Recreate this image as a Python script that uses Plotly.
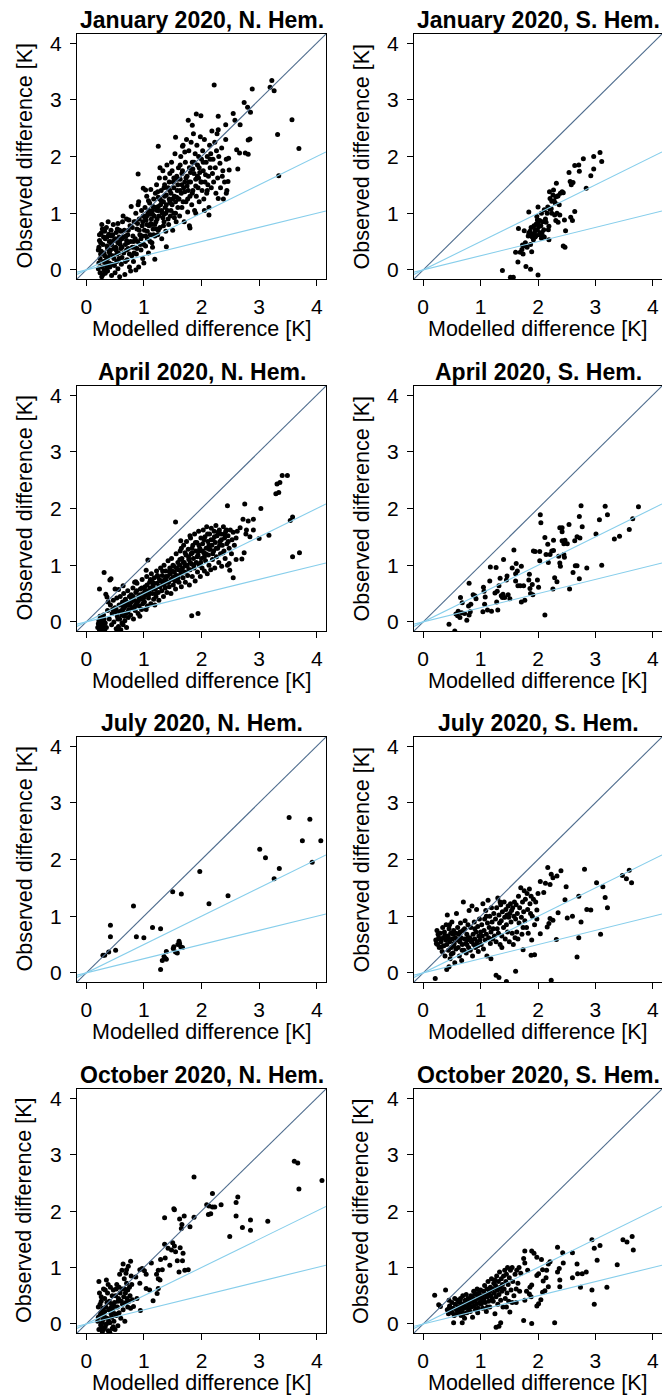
import plotly.graph_objects as go

# ---------------- data (modelled, observed) ----------------
jan_n = [
    (2.22, 3.26), (3.22, 3.34), (3.19, 3.22), (3.26, 3.16), (2.88, 3.19), (2.74, 2.95), (2.80, 2.87),
    (2.85, 2.78), (3.57, 2.65), (3.32, 2.39), (3.69, 2.14), (3.34, 1.66), (2.55, 2.76), (2.58, 2.64),
    (2.67, 2.56), (2.42, 2.56), (2.29, 2.47), (2.29, 2.71), (1.91, 2.75), (1.99, 2.72), (1.77, 2.64),
    (1.84, 2.55), (1.55, 2.34), (1.67, 2.18), (1.25, 2.18), (0.90, 1.69), (2.81, 2.29), (2.84, 2.31),
    (2.61, 2.12), (2.76, 2.06), (2.81, 2.04), (2.66, 2.06), (2.47, 1.97), (2.63, 1.78), (2.48, 1.76),
    (2.46, 1.56), (2.43, 1.35), (2.29, 1.26), (2.13, 0.97), (1.80, 0.74), (1.39, 0.41), (1.19, 0.19),
    (1.00, 0.12), (0.99, 1.44), (1.03, 1.41),
    (0.21, 0.35), (0.22, 0.12), (0.23, 0.52), (0.24, -0.05), (0.25, 0.28), (0.26, 0.65), (0.27, 0.80),
    (0.28, 0.05), (0.22, 0.40), (0.29, 0.45), (0.24, 0.20), (0.27, -0.12), (0.30, 0.58), (0.26, 0.33),
    (0.28, 0.72), (0.21, 0.02), (0.30, 0.15), (0.25, 0.48), (0.23, 0.62), (0.29, -0.08),
    (0.31, 0.30), (0.33, 0.55), (0.34, 0.10), (0.35, 0.75), (0.36, 0.42), (0.37, -0.02), (0.38, 0.22),
    (0.39, 0.63), (0.40, 0.50), (0.41, 0.05), (0.42, 0.35), (0.43, 0.70), (0.44, -0.10), (0.32, 0.68),
    (0.35, 0.18), (0.38, 0.85), (0.41, 0.28), (0.44, 0.45), (0.33, -0.06), (0.36, 0.58), (0.40, 0.12),
    (0.43, 0.60), (0.37, 0.38), (0.31, 0.00),
    (0.46, 0.25), (0.47, 0.80), (0.48, 0.52), (0.50, -0.05), (0.51, 0.40), (0.52, 0.66), (0.53, 0.15),
    (0.55, 0.82), (0.56, 0.30), (0.57, 0.58), (0.58, -0.12), (0.59, 0.45), (0.46, 0.62), (0.49, 0.08),
    (0.52, 0.35), (0.54, 0.72), (0.57, 0.20), (0.60, 0.68), (0.48, 0.38), (0.55, 0.02), (0.58, 0.50),
    (0.61, 0.10), (0.62, 0.55), (0.63, 0.85), (0.65, 0.30), (0.66, 0.70), (0.67, -0.08), (0.68, 0.45),
    (0.70, 0.90), (0.71, 0.18), (0.72, 0.62), (0.73, 0.38), (0.75, 0.05), (0.76, 0.78), (0.77, 0.50),
    (0.78, 1.12), (0.79, 0.25), (0.64, 0.95), (0.69, 0.60), (0.74, 0.88), (0.80, 0.40), (0.62, 0.22),
    (0.77, -0.02), (0.70, 0.35), (0.73, 0.70),
    (0.81, 0.60), (0.82, 0.15), (0.83, 0.85), (0.84, 0.40), (0.86, 1.00), (0.87, 0.28), (0.88, 0.72),
    (0.89, 0.50), (0.90, 1.15), (0.91, 0.05), (0.92, 0.90), (0.93, 0.62), (0.95, 0.35), (0.96, 1.05),
    (0.97, 0.78), (0.98, 0.20), (0.99, 0.95), (0.85, 0.55), (0.89, 0.82), (0.94, 0.45), (0.83, 0.30),
    (0.97, 0.60), (0.91, 1.20), (0.86, 0.00),
    (1.01, 0.70), (1.02, 1.10), (1.03, 0.42), (1.04, 0.88), (1.05, 1.30), (1.06, 0.55), (1.07, 1.00),
    (1.08, 0.30), (1.09, 0.78), (1.10, 1.18), (1.11, 0.62), (1.12, 1.42), (1.13, 0.90), (1.14, 0.48),
    (1.15, 1.05), (1.16, 0.72), (1.17, 1.25), (1.18, 0.95), (1.19, 0.60), (1.20, 1.35), (1.05, 0.95),
    (1.12, 0.82), (1.08, 1.22), (1.16, 1.12), (1.03, 0.60), (1.19, 0.80), (1.15, 0.40), (1.10, 0.98),
    (1.21, 0.85), (1.22, 1.50), (1.23, 1.05), (1.24, 0.62), (1.25, 1.28), (1.26, 0.95), (1.27, 1.62),
    (1.28, 0.75), (1.29, 1.15), (1.30, 1.40), (1.31, 0.55), (1.32, 1.00), (1.33, 1.75), (1.34, 1.20),
    (1.35, 0.85), (1.36, 1.50), (1.37, 1.10), (1.38, 0.68), (1.39, 1.32), (1.40, 1.85), (1.24, 1.38),
    (1.28, 1.80), (1.33, 0.92), (1.37, 1.62), (1.22, 0.72), (1.30, 1.22), (1.26, 1.05), (1.38, 1.00),
    (1.35, 1.45),
    (1.41, 1.05), (1.42, 1.45), (1.43, 0.80), (1.44, 1.25), (1.45, 1.70), (1.46, 0.95), (1.47, 1.35),
    (1.48, 1.90), (1.49, 1.15), (1.50, 0.70), (1.51, 1.55), (1.52, 1.00), (1.53, 1.30), (1.54, 2.05),
    (1.55, 1.20), (1.56, 0.85), (1.57, 1.65), (1.58, 1.40), (1.59, 1.10), (1.60, 1.80), (1.44, 1.55),
    (1.49, 1.75), (1.53, 0.92), (1.57, 1.28), (1.46, 1.18), (1.52, 1.62), (1.59, 1.50),
    (1.61, 1.25), (1.62, 0.95), (1.63, 1.60), (1.64, 2.00), (1.65, 1.35), (1.66, 1.10), (1.67, 1.75),
    (1.68, 2.20), (1.69, 1.45), (1.70, 0.85), (1.71, 1.55), (1.72, 1.90), (1.73, 1.20), (1.74, 2.30),
    (1.75, 1.65), (1.76, 1.02), (1.77, 1.40), (1.78, 2.10), (1.79, 1.80), (1.80, 1.30), (1.66, 1.50),
    (1.71, 2.08), (1.75, 1.48), (1.79, 0.78), (1.63, 1.85),
    (1.81, 1.55), (1.82, 2.25), (1.83, 1.15), (1.84, 1.90), (1.85, 1.40), (1.86, 2.40), (1.87, 1.70),
    (1.88, 1.05), (1.89, 2.05), (1.90, 1.60), (1.91, 1.30), (1.92, 2.20), (1.93, 1.85), (1.94, 1.45),
    (1.95, 2.00), (1.96, 1.20), (1.97, 1.72), (1.98, 2.35), (1.99, 1.55), (2.00, 1.95), (1.85, 1.78),
    (1.90, 1.00), (1.95, 1.62),
    (2.01, 1.40), (2.02, 2.10), (2.03, 1.75), (2.04, 1.25), (2.05, 2.30), (2.06, 1.55), (2.08, 1.90),
    (2.09, 1.35), (2.10, 2.00), (2.12, 1.65), (2.13, 1.10), (2.14, 2.20), (2.15, 1.80), (2.17, 1.45),
    (2.18, 2.45), (2.19, 1.70), (2.20, 1.95), (2.05, 1.05), (2.11, 1.50), (2.16, 2.05),
    (2.21, 1.55), (2.23, 2.25), (2.24, 1.80), (2.25, 1.35), (2.27, 2.40), (2.28, 1.62), (2.30, 2.00),
    (2.32, 1.88), (2.33, 1.45), (2.35, 2.15), (2.37, 1.75), (2.38, 1.25), (2.40, 1.55), (2.42, 2.30),
    (2.43, 1.95), (2.44, 1.40), (2.26, 2.10), (2.36, 1.65),
    (0.32, 0.25), (0.36, 0.05), (0.40, 0.32), (0.45, 0.10), (0.50, 0.55), (0.53, 0.28), (0.58, 0.70),
    (0.60, 0.38), (0.65, 0.58), (0.68, 0.15), (0.72, 0.48), (0.75, 0.28), (0.80, 0.75), (0.82, 0.50),
    (0.85, 0.85), (0.88, 0.38), (0.92, 0.70), (0.95, 0.55), (0.98, 0.85), (1.00, 0.45), (1.02, 0.92),
    (1.06, 0.68), (1.09, 1.05), (1.11, 0.50), (1.14, 0.80), (1.17, 0.62), (1.20, 1.10), (1.23, 0.90),
    (1.25, 0.70), (1.28, 1.25), (1.31, 1.05), (1.34, 0.78), (1.36, 1.30), (1.39, 1.15), (1.42, 0.90),
    (1.45, 1.40), (1.47, 1.05), (1.50, 1.25), (1.52, 1.45), (1.55, 1.00), (1.58, 1.60), (1.60, 1.25),
    (1.63, 1.40), (1.66, 1.70), (1.68, 1.20), (1.71, 1.38), (1.73, 1.62), (1.76, 1.25), (1.78, 1.55),
    (1.81, 1.72), (1.84, 1.35), (1.87, 1.90), (1.90, 1.48), (1.93, 1.65), (1.96, 1.80), (2.00, 1.55),
    (2.03, 1.90), (2.07, 1.68), (2.10, 1.40), (2.15, 1.95), (1.05, 0.80), (1.15, 0.98), (1.25, 1.12),
    (1.35, 0.98), (1.45, 1.20), (0.70, 0.52), (0.62, 0.40), (0.55, 0.48), (0.48, 0.20), (0.42, 0.50),
]

jan_s = [
    (1.38, -0.01), (1.52, -0.13), (1.57, -0.13), (1.55, -0.16), (2.00, -0.09), (1.79, 0.06), (1.87, 0.01),
    (1.65, 0.14), (1.61, 0.31), (1.69, 0.31), (1.74, 0.28), (1.66, 0.73), (1.73, 0.44), (1.75, 0.42),
    (1.81, 0.40), (1.87, 0.45), (1.89, 0.32), (1.84, 1.02), (1.76, 0.69), (1.84, 0.65), (1.87, 0.62),
    (1.90, 0.58), (1.92, 0.53), (1.95, 0.71), (1.97, 0.81), (2.01, 0.76), (2.03, 0.87), (1.98, 0.94),
    (2.00, 1.11), (2.06, 1.00), (2.08, 0.85), (2.10, 0.71), (2.09, 0.59), (2.14, 0.84), (2.18, 0.71),
    (2.19, 0.53), (2.06, 0.56), (2.04, 0.65), (1.94, 0.65), (1.95, 0.58), (2.11, 1.06), (2.17, 1.11),
    (2.21, 1.07), (2.20, 1.38), (2.27, 1.41), (2.21, 1.26), (2.24, 1.21), (2.28, 1.22), (2.31, 1.29),
    (2.32, 1.53), (2.35, 1.31), (2.39, 1.35), (2.42, 1.38), (2.29, 0.97), (2.33, 1.00), (2.38, 0.97),
    (2.31, 0.87), (2.35, 0.84), (2.44, 0.42), (2.47, 0.40), (2.48, 0.69), (2.46, 0.88), (2.57, 0.93),
    (2.60, 0.87), (2.64, 1.03), (2.54, 1.72), (2.56, 1.56), (2.61, 1.54), (2.58, 1.50), (2.64, 1.84),
    (2.71, 1.85), (2.72, 1.74), (2.79, 1.96), (2.84, 1.44), (2.92, 1.66), (2.97, 2.00), (2.97, 1.78),
    (3.08, 2.07), (3.11, 1.91),
    (1.86, 0.68), (1.88, 0.75), (1.91, 0.63), (1.93, 0.78), (1.96, 0.60), (1.99, 0.70), (2.02, 0.62),
    (2.05, 0.78), (2.07, 0.66), (2.11, 0.58), (2.13, 0.90), (2.00, 0.82), (1.83, 0.60), (2.16, 1.00),
    (2.23, 1.08), (2.26, 1.32), (2.30, 1.18), (2.34, 1.30), (2.37, 1.15), (2.44, 1.36), (1.72, 0.36),
    (1.78, 0.48), (1.99, 0.88), (2.24, 1.00), (2.19, 0.77),
]

apr_n = [
    (0.23, 0.58), (0.31, 0.87), (0.34, 0.49), (0.36, 0.44), (0.41, 0.74), (0.43, 0.76), (0.50, 0.58),
    (0.56, 0.57), (0.64, 0.64), (0.86, 0.71), (1.04, 0.91), (1.07, 1.09), (1.55, 1.76), (1.64, 1.43),
    (1.80, 1.52), (1.83, 0.11), (1.94, 0.15), (2.45, 2.05), (2.75, 2.08), (3.03, 2.00), (2.72, 1.81),
    (2.81, 1.78), (2.90, 1.81), (2.84, 1.50), (3.17, 1.53), (3.00, 1.47), (3.31, 2.43), (3.36, 2.46),
    (3.40, 2.58), (3.49, 2.58), (3.29, 2.26), (3.34, 2.28), (3.54, 1.79), (3.58, 1.85), (3.58, 1.15),
    (3.70, 1.22), (2.49, 0.91), (2.55, 0.78), (2.48, 1.03), (2.60, 1.10), (2.70, 1.11), (2.74, 1.22),
    (2.77, 1.55), (2.67, 1.66), (2.78, 1.62), (2.90, 1.62),
    (0.20, -0.10), (0.22, 0.02), (0.23, -0.14), (0.25, 0.08), (0.26, -0.05), (0.27, -0.12), (0.28, 0.00),
    (0.30, -0.08), (0.31, 0.05), (0.32, -0.15), (0.21, -0.03), (0.24, 0.10), (0.29, -0.13), (0.33, -0.02),
    (0.26, 0.04), (0.35, -0.10), (0.22, -0.08), (0.30, 0.12),
    (0.37, 0.20), (0.40, 0.05), (0.42, 0.30), (0.44, -0.05), (0.45, 0.15), (0.47, 0.38), (0.48, 0.00),
    (0.50, 0.25), (0.52, -0.12), (0.53, 0.42), (0.54, 0.10), (0.38, 0.35), (0.46, 0.22), (0.51, 0.18),
    (0.56, -0.08), (0.57, 0.30), (0.58, 0.05), (0.59, 0.45), (0.60, -0.14), (0.61, 0.20), (0.62, 0.12),
    (0.63, 0.35), (0.64, -0.05), (0.65, 0.50), (0.66, 0.25), (0.67, 0.02), (0.68, 0.40), (0.69, 0.15),
    (0.70, -0.10), (0.71, 0.30), (0.72, 0.55), (0.73, 0.08), (0.74, 0.22), (0.75, 0.45), (0.58, 0.18),
    (0.62, -0.02), (0.66, 0.10), (0.70, 0.35), (0.57, -0.15), (0.64, 0.28),
    (0.76, 0.30), (0.77, 0.12), (0.78, 0.48), (0.80, 0.25), (0.81, 0.60), (0.82, 0.05), (0.83, 0.38),
    (0.85, 0.20), (0.86, 0.52), (0.87, 0.32), (0.88, 0.68), (0.90, 0.15), (0.91, 0.45), (0.92, 0.28),
    (0.94, 0.58), (0.95, 0.40), (0.96, 0.22), (0.97, 0.75), (0.99, 0.50), (0.79, 0.40), (0.84, 0.70),
    (0.89, 0.35), (0.93, 0.10), (0.98, 0.32),
    (1.01, 0.35), (1.02, 0.62), (1.03, 0.48), (1.05, 0.80), (1.06, 0.28), (1.07, 0.55), (1.08, 0.42),
    (1.10, 0.70), (1.11, 0.60), (1.12, 0.32), (1.13, 0.85), (1.15, 0.50), (1.16, 0.65), (1.17, 0.40),
    (1.18, 0.78), (1.20, 0.58), (1.21, 0.45), (1.22, 0.90), (1.23, 0.68), (1.25, 0.52), (1.26, 0.38),
    (1.27, 0.75), (1.28, 0.62), (1.29, 0.95), (1.04, 0.22), (1.14, 0.72), (1.19, 0.30), (1.24, 0.80),
    (1.09, 0.52),
    (1.31, 0.55), (1.32, 0.82), (1.33, 0.68), (1.34, 0.45), (1.35, 1.00), (1.36, 0.75), (1.37, 0.60),
    (1.38, 0.90), (1.40, 0.52), (1.41, 0.80), (1.42, 1.08), (1.43, 0.70), (1.44, 0.62), (1.45, 0.95),
    (1.46, 0.85), (1.47, 0.50), (1.48, 1.12), (1.50, 0.78), (1.51, 0.65), (1.52, 0.98), (1.53, 0.88),
    (1.55, 0.58), (1.56, 1.20), (1.57, 0.82), (1.58, 0.72), (1.59, 1.05), (1.60, 0.92), (1.39, 0.72),
    (1.49, 0.90), (1.54, 0.72),
    (1.61, 0.70), (1.62, 1.00), (1.63, 1.25), (1.64, 0.85), (1.65, 0.62), (1.66, 1.12), (1.67, 0.95),
    (1.68, 0.78), (1.69, 1.35), (1.70, 1.05), (1.71, 0.88), (1.72, 0.70), (1.73, 1.18), (1.74, 1.42),
    (1.75, 0.98), (1.76, 0.82), (1.77, 1.28), (1.78, 1.10), (1.79, 0.65), (1.80, 0.92), (1.81, 1.48),
    (1.82, 1.20), (1.83, 1.02), (1.84, 0.80), (1.85, 1.35), (1.86, 1.12), (1.87, 0.95), (1.88, 1.55),
    (1.89, 0.72), (1.90, 1.25), (1.65, 1.30), (1.72, 1.00), (1.78, 0.92), (1.84, 1.22),
    (1.91, 1.05), (1.92, 1.40), (1.93, 0.88), (1.94, 1.18), (1.95, 1.60), (1.96, 1.00), (1.97, 1.30),
    (1.98, 0.80), (1.99, 1.48), (2.00, 1.12), (2.01, 0.95), (2.02, 1.38), (2.03, 1.62), (2.04, 1.22),
    (2.05, 0.90), (2.06, 1.50), (2.07, 1.08), (2.08, 1.30), (2.09, 1.68), (2.10, 0.85), (2.11, 1.42),
    (2.12, 1.18), (2.13, 1.00), (2.14, 1.55), (2.15, 1.28), (2.16, 0.92), (2.17, 1.65), (2.18, 1.35),
    (2.19, 1.10), (2.20, 1.45), (1.96, 1.25), (2.05, 1.15), (2.13, 1.35),
    (2.21, 1.25), (2.22, 1.60), (2.23, 0.95), (2.24, 1.40), (2.25, 1.70), (2.26, 1.15), (2.27, 1.52),
    (2.28, 1.30), (2.30, 1.05), (2.31, 1.62), (2.32, 1.42), (2.33, 1.20), (2.34, 1.55), (2.35, 0.98),
    (2.36, 1.35), (2.38, 1.68), (2.39, 1.25), (2.40, 1.48), (2.41, 1.12), (2.42, 1.60), (2.44, 1.38),
    (2.45, 1.00), (2.46, 1.52), (2.48, 1.30), (2.50, 1.62), (2.52, 1.20), (2.53, 1.45), (2.55, 1.58),
    (2.57, 1.35), (2.60, 1.48), (2.62, 1.60),
    (0.785, 0.35), (0.815, 0.45), (0.845, 0.28), (0.875, 0.55), (0.905, 0.38), (0.935, 0.48), (0.965, 0.60),
    (0.995, 0.42), (1.025, 0.55), (1.055, 0.65), (1.085, 0.48), (1.115, 0.75), (1.145, 0.58), (1.175, 0.68),
    (1.205, 0.50), (1.235, 0.82), (1.265, 0.62), (1.295, 0.72), (1.325, 0.90), (1.355, 0.65), (1.385, 0.80),
    (1.415, 0.70), (1.445, 0.88), (1.475, 0.75), (1.505, 1.00), (1.535, 0.80), (1.565, 0.95), (1.595, 0.78),
    (1.625, 1.10), (1.655, 0.92), (1.685, 1.05), (1.715, 1.22), (1.745, 1.00), (1.775, 1.15), (1.805, 1.05),
    (1.835, 1.30), (1.865, 1.00), (1.895, 1.40), (1.925, 1.15), (1.955, 1.35), (1.985, 1.05), (2.015, 1.25),
    (2.045, 1.45), (2.075, 1.20), (2.105, 1.55), (2.135, 1.28), (2.165, 1.45), (2.195, 1.20), (2.225, 1.50),
    (2.255, 1.30), (2.285, 1.58), (2.315, 1.35), (2.345, 1.45), (2.375, 1.22), (2.405, 1.55), (2.435, 1.62),
    (2.465, 1.42), (0.63, 0.20), (0.68, 0.28), (0.72, 0.18), (0.55, 0.05), (0.60, 0.30), (0.52, 0.22),
]

apr_s = [
    (0.45, -0.04), (0.55, -0.16), (0.65, 0.43), (0.57, 0.14), (0.60, 0.11), (0.64, 0.08), (0.61, 0.19),
    (0.67, 0.16), (0.72, 0.15), (0.76, 0.03), (0.80, 0.12), (0.82, 0.18), (0.83, 0.31), (0.68, 0.34),
    (0.79, 0.28), (0.80, 0.68), (0.87, 0.48), (0.90, 0.46), (0.92, 0.41), (1.04, 0.18), (1.05, 0.61),
    (1.06, 0.54), (1.07, 0.31), (1.08, 0.44), (1.12, 0.21), (1.16, 0.72), (1.17, 0.97), (1.19, 0.19),
    (1.27, 0.96), (1.25, 0.51), (1.29, 0.54), (1.28, 0.35), (1.30, 0.21), (1.32, 0.64), (1.34, 0.77),
    (1.36, 0.46), (1.39, 0.49), (1.42, 0.43), (1.40, 1.10), (1.38, 0.43), (1.46, 0.81), (1.45, 0.74),
    (1.48, 0.48), (1.51, 0.41), (1.55, 0.95), (1.58, 1.27), (1.61, 0.85), (1.62, 1.03), (1.64, 0.90),
    (1.61, 0.72), (1.65, 0.64), (1.69, 0.64), (1.75, 0.64), (1.71, 0.98), (1.71, 0.35), (1.77, 0.38),
    (1.84, 0.74), (1.85, 0.84), (1.86, 0.59), (1.90, 0.66), (1.87, 0.50), (1.91, 0.48), (1.92, 1.25),
    (1.95, 1.24), (1.99, 0.74), (2.01, 0.61), (2.03, 1.24), (2.03, 1.08), (2.04, 1.89), (2.05, 1.75),
    (2.12, 0.12), (2.12, 1.49), (2.14, 1.19), (2.17, 1.37), (2.18, 1.05), (2.21, 1.19), (2.24, 1.25),
    (2.27, 1.26), (2.26, 0.58), (2.27, 1.44), (2.29, 0.78), (2.33, 0.71), (2.36, 1.16), (2.38, 1.04),
    (2.39, 0.98), (2.38, 1.66), (2.42, 1.66), (2.42, 1.59), (2.42, 1.43), (2.45, 1.38), (2.45, 1.19),
    (2.46, 1.14), (2.47, 1.44), (2.51, 1.38), (2.54, 1.72), (2.55, 0.58), (2.61, 0.87), (2.65, 0.99),
    (2.68, 0.99), (2.64, 1.43), (2.68, 1.50), (2.72, 1.86), (2.75, 2.05), (2.73, 1.48), (2.72, 0.76),
    (2.77, 1.68), (2.85, 0.95), (3.01, 1.55), (3.07, 1.80), (3.11, 1.00), (3.17, 2.04), (3.21, 1.89),
    (3.33, 1.46), (3.42, 1.51), (3.59, 1.63), (3.65, 1.82), (3.75, 2.03),
]

jul_n = [
    (0.29, 0.31), (0.32, 0.31), (0.39, 0.37), (0.42, 0.84), (0.42, 0.64), (0.51, 0.40), (0.82, 1.18),
    (0.87, 0.64), (1.00, 0.62), (1.15, 0.80), (1.29, 0.78), (1.29, 0.06), (1.32, 0.22), (1.35, 0.29),
    (1.37, 0.26), (1.39, 0.24), (1.39, 0.38), (1.51, 0.43), (1.52, 0.46), (1.55, 0.37), (1.58, 0.35),
    (1.59, 0.50), (1.61, 0.56), (1.62, 0.52), (1.64, 0.46), (1.67, 0.45), (1.50, 1.43), (1.65, 1.39),
    (1.97, 1.79), (2.13, 1.22), (2.46, 1.36), (3.01, 2.18), (3.11, 2.03), (3.26, 1.66), (3.35, 1.84),
    (3.52, 2.74), (3.75, 2.33), (3.88, 2.71), (3.92, 1.95), (4.07, 2.33),
]

jul_s = [
    (0.21, -0.10), (0.41, 0.06), (0.45, 0.11), (1.27, -0.04), (1.32, -0.08), (1.45, -0.15), (1.61, 0.03),
    (2.23, -0.13), (2.68, 0.28), (1.88, 0.31), (1.94, 0.32), (1.74, 0.41), (2.32, 0.59), (2.71, 0.62),
    (3.09, 0.68), (2.75, 0.90), (2.85, 1.12), (2.92, 1.11), (3.02, 1.59), (3.13, 1.52), (3.17, 1.33),
    (3.21, 1.15), (3.47, 1.72), (3.54, 1.66), (3.59, 1.81), (3.63, 1.59), (2.81, 1.83), (2.71, 1.35),
    (2.40, 1.80), (2.33, 1.71), (2.17, 1.86), (2.23, 1.74), (2.26, 1.68), (2.04, 1.61), (2.13, 1.58),
    (2.10, 1.42), (2.49, 1.52), (2.47, 1.29), (2.51, 0.97), (2.60, 1.00), (2.35, 1.06), (2.26, 0.93),
    (2.21, 0.96), (2.16, 0.81), (2.19, 0.87), (2.04, 0.69), (1.98, 1.11), (2.21, 1.56),
    (0.22, 0.58), (0.24, 0.75), (0.25, 0.50), (0.27, 0.62), (0.28, 0.45), (0.30, 0.70), (0.31, 0.55),
    (0.33, 0.38), (0.34, 0.80), (0.35, 0.62), (0.36, 0.48), (0.37, 0.72), (0.38, 0.30), (0.39, 0.58),
    (0.40, 0.85), (0.26, 0.68), (0.32, 0.46), (0.29, 0.60), (0.38, 0.66), (0.23, 0.52),
    (0.41, 0.50), (0.42, 1.02), (0.43, 0.65), (0.44, 0.40), (0.45, 0.78), (0.46, 0.55), (0.47, 0.25),
    (0.48, 0.70), (0.49, 0.45), (0.50, 0.90), (0.51, 0.60), (0.52, 0.35), (0.53, 0.75), (0.54, 0.52),
    (0.55, 0.18), (0.56, 0.62), (0.57, 0.42), (0.58, 1.05), (0.59, 0.58), (0.60, 0.80), (0.44, 0.62),
    (0.49, 0.33), (0.53, 0.48), (0.57, 0.70), (0.46, 0.85), (0.52, 0.68),
    (0.61, 0.45), (0.62, 0.68), (0.63, 0.30), (0.64, 0.55), (0.65, 0.88), (0.66, 0.62), (0.67, 0.22),
    (0.68, 0.50), (0.69, 0.75), (0.70, 1.25), (0.71, 0.40), (0.72, 0.60), (0.73, 0.92), (0.74, 0.52),
    (0.75, 0.35), (0.76, 0.68), (0.77, 0.58), (0.78, 0.85), (0.79, 0.45), (0.80, 1.10), (0.64, 0.72),
    (0.68, 0.40), (0.72, 0.78), (0.76, 0.50), (0.62, 0.58), (0.78, 0.62),
    (0.81, 0.62), (0.82, 0.40), (0.83, 0.80), (0.84, 0.55), (0.85, 1.18), (0.86, 0.30), (0.87, 0.68),
    (0.88, 0.50), (0.89, 0.90), (0.90, 0.60), (0.91, 0.45), (0.92, 0.72), (0.93, 1.12), (0.94, 0.55),
    (0.95, 0.82), (0.96, 0.38), (0.97, 0.65), (0.98, 0.95), (0.99, 0.58), (1.00, 0.72), (0.85, 0.58),
    (0.90, 0.78), (0.95, 0.48),
    (1.01, 0.50), (1.02, 0.85), (1.03, 0.65), (1.04, 1.22), (1.05, 0.42), (1.06, 0.75), (1.07, 0.95),
    (1.08, 0.58), (1.09, 1.10), (1.10, 0.68), (1.11, 0.30), (1.12, 0.88), (1.13, 1.28), (1.14, 0.62),
    (1.15, 0.80), (1.16, 1.00), (1.17, 0.52), (1.18, 0.72), (1.19, 1.15), (1.20, 0.90), (1.21, 0.60),
    (1.22, 0.78), (1.23, 1.05), (1.24, 0.65), (1.10, 1.00), (1.18, 0.25),
    (1.26, 0.95), (1.27, 0.55), (1.28, 1.15), (1.29, 0.78), (1.30, 1.32), (1.31, 0.70), (1.32, 1.02),
    (1.33, 0.88), (1.34, 0.50), (1.35, 1.20), (1.36, 0.92), (1.37, 0.65), (1.38, 1.08), (1.40, 0.80),
    (1.41, 1.25), (1.42, 0.98), (1.43, 0.60), (1.44, 1.12), (1.45, 0.85), (1.46, 1.02), (1.47, 0.72),
    (1.48, 1.18), (1.50, 0.55), (1.51, 1.05), (1.52, 1.22), (1.53, 0.90), (1.54, 1.10), (1.55, 0.70),
    (1.56, 1.15), (1.57, 0.50), (1.58, 1.00), (1.59, 1.25), (1.60, 0.62), (1.34, 1.25), (1.49, 0.98),
    (1.37, 0.45),
    (1.61, 0.95), (1.62, 1.20), (1.63, 0.72), (1.64, 1.05), (1.66, 1.35), (1.67, 0.88), (1.68, 1.15),
    (1.70, 1.50), (1.71, 0.98), (1.72, 0.68), (1.73, 1.25), (1.75, 1.08), (1.76, 1.45), (1.77, 0.92),
    (1.78, 1.30), (1.80, 0.80), (1.81, 1.40), (1.82, 1.12), (1.83, 0.70), (1.85, 1.48), (1.86, 1.22),
    (1.88, 1.35), (1.89, 0.58), (1.90, 1.00), (1.92, 1.30), (1.94, 0.85), (1.96, 1.25), (1.98, 0.95),
    (2.00, 1.40), (1.65, 0.60), (1.74, 0.80), (1.87, 1.05),
]

oct_n = [
    (1.87, 2.60), (2.19, 2.31), (2.09, 2.11), (2.13, 2.09), (2.16, 1.95), (2.12, 1.94), (2.19, 2.07),
    (2.23, 2.07), (2.34, 2.11), (2.63, 2.25), (2.60, 2.15), (2.60, 1.91), (2.49, 1.55), (2.71, 1.71),
    (2.85, 1.84), (2.85, 1.66), (3.15, 1.82), (3.61, 2.88), (3.67, 2.85), (3.69, 2.39), (4.09, 2.54),
    (1.52, 2.04), (1.53, 2.02), (1.36, 1.88), (1.62, 1.86), (1.66, 1.76), (1.65, 1.69), (1.70, 1.91),
    (1.80, 1.72), (1.87, 1.89), (1.36, 1.41), (1.42, 1.34), (1.50, 1.44), (1.53, 1.38), (1.55, 1.28),
    (1.48, 1.31), (1.63, 1.35), (1.68, 1.25), (1.67, 1.12), (1.58, 1.12), (1.61, 0.92), (1.71, 0.95),
    (1.77, 0.96), (1.37, 1.17), (1.45, 1.04), (1.29, 1.14), (1.25, 0.95), (1.32, 0.96), (1.13, 1.08),
    (1.22, 0.88), (1.25, 0.80), (1.28, 0.78), (1.16, 0.41), (1.23, 0.54), (1.25, 0.63), (0.94, 0.24),
    (0.77, 1.11), (0.70, 0.96), (0.64, 1.06), (0.93, 0.96), (0.97, 0.98), (1.01, 0.94), (1.04, 0.88),
    (1.04, 0.63), (1.10, 0.60), (0.86, 0.83), (0.93, 0.72), (0.82, 0.31), (0.77, 0.28), (0.80, 0.43),
    (0.88, 0.45),
    (0.20, 0.05), (0.21, 0.30), (0.22, -0.10), (0.23, 0.55), (0.24, 0.15), (0.25, -0.02), (0.26, 0.40),
    (0.27, 0.22), (0.28, -0.14), (0.29, 0.08), (0.30, 0.62), (0.22, 0.75), (0.24, 0.35), (0.27, -0.06),
    (0.29, 0.28), (0.21, 0.12), (0.26, 0.48), (0.30, -0.10), (0.25, 0.20), (0.28, 0.02),
    (0.31, 0.15), (0.32, 0.45), (0.33, -0.05), (0.34, 0.30), (0.35, 0.78), (0.36, 0.10), (0.37, 0.55),
    (0.38, -0.12), (0.39, 0.25), (0.40, 0.40), (0.41, 0.02), (0.42, 0.65), (0.43, 0.18), (0.44, 0.35),
    (0.45, -0.08), (0.33, 0.60), (0.36, 0.38), (0.39, 0.05), (0.42, 0.28), (0.45, 0.50), (0.32, 0.22),
    (0.38, 0.70), (0.41, -0.15), (0.44, 0.12), (0.35, 0.00),
    (0.46, 0.25), (0.47, 0.60), (0.48, 0.05), (0.49, 0.38), (0.50, -0.10), (0.51, 0.50), (0.52, 0.15),
    (0.53, 0.70), (0.54, 0.30), (0.55, -0.03), (0.56, 0.45), (0.57, 0.20), (0.58, 0.88), (0.59, 0.55),
    (0.60, 0.10), (0.48, 0.32), (0.52, 0.62), (0.55, 0.40), (0.50, 0.18), (0.57, 0.65), (0.47, -0.05),
    (0.61, 0.40), (0.62, 0.95), (0.63, 0.62), (0.64, 0.25), (0.65, 0.48), (0.66, 0.80), (0.67, 0.05),
    (0.68, 0.55), (0.69, 0.38), (0.70, 0.72), (0.71, 0.45), (0.72, 0.60), (0.73, 1.02), (0.74, 0.40),
    (0.75, 0.65), (0.76, 0.50), (0.78, 0.85), (0.63, 0.35), (0.69, 0.90), (0.72, 0.30), (0.67, 0.62),
    (0.79, 0.70),
]

oct_s = [
    (0.20, 0.51), (0.27, 0.34), (0.30, 0.31), (0.39, 0.60), (0.45, 0.42), (0.53, 0.02), (0.68, 0.02),
    (1.75, 0.06), (1.89, 0.01), (2.29, 0.02), (1.27, -0.06), (1.32, -0.04), (1.35, 0.02), (1.51, 0.21),
    (1.77, 0.42), (1.85, 0.53), (1.88, 0.48), (1.80, 0.58), (1.98, 0.32), (2.01, 0.36), (2.05, 0.43),
    (2.08, 0.56), (2.12, 0.59), (2.18, 0.66), (2.38, 0.66), (2.09, 0.76), (2.14, 0.82), (2.15, 0.95),
    (2.18, 1.06), (2.21, 1.10), (2.06, 1.14), (2.08, 0.96), (1.98, 1.18), (1.93, 1.25), (1.89, 1.29),
    (1.77, 1.29), (1.75, 1.16), (1.77, 1.08), (1.82, 0.95), (1.98, 0.86), (2.01, 0.89), (1.89, 0.69),
    (1.86, 0.65), (2.34, 0.92), (2.38, 0.78), (2.37, 0.98), (2.34, 1.36), (2.43, 1.26), (2.44, 1.08),
    (2.60, 1.26), (2.60, 0.82), (2.68, 1.06), (2.69, 0.89), (2.74, 0.65), (2.77, 0.89), (2.84, 0.92),
    (2.94, 1.49), (2.98, 1.34), (2.98, 0.35), (2.94, 0.60), (3.03, 1.13), (3.08, 1.39), (3.20, 0.65),
    (3.38, 1.05), (3.48, 1.49), (3.55, 1.45), (3.64, 1.55), (3.66, 1.31),
    (0.42, 0.25), (0.44, 0.18), (0.46, 0.32), (0.48, 0.22), (0.50, 0.38), (0.52, 0.28), (0.54, 0.15),
    (0.56, 0.35), (0.58, 0.25), (0.60, 0.42), (0.45, 0.28), (0.55, 0.45), (0.51, 0.20), (0.59, 0.18),
    (0.61, 0.30), (0.62, 0.20), (0.63, 0.38), (0.64, 0.25), (0.65, 0.45), (0.66, 0.15), (0.67, 0.32),
    (0.68, 0.22), (0.69, 0.50), (0.70, 0.35), (0.71, 0.28), (0.72, 0.10), (0.73, 0.42), (0.74, 0.30),
    (0.75, 0.52), (0.76, 0.20), (0.77, 0.38), (0.78, 0.45), (0.79, 0.25), (0.80, 0.35), (0.64, 0.40),
    (0.70, 0.18), (0.76, 0.30),
    (0.81, 0.42), (0.82, 0.22), (0.83, 0.50), (0.84, 0.30), (0.85, 0.38), (0.86, 0.12), (0.87, 0.45),
    (0.88, 0.58), (0.89, 0.32), (0.90, 0.40), (0.91, 0.25), (0.92, 0.52), (0.93, 0.35), (0.94, 0.62),
    (0.95, 0.45), (0.96, 0.28), (0.97, 0.55), (0.98, 0.38), (0.99, 0.48), (1.00, 0.60), (0.85, 0.48),
    (0.90, 0.55), (0.95, 0.20),
    (1.01, 0.35), (1.02, 0.50), (1.03, 0.42), (1.04, 0.28), (1.05, 0.58), (1.06, 0.45), (1.07, 0.68),
    (1.08, 0.38), (1.09, 0.52), (1.10, 0.22), (1.11, 0.62), (1.12, 0.48), (1.13, 0.75), (1.14, 0.40),
    (1.15, 0.55), (1.16, 0.30), (1.17, 0.65), (1.18, 0.50), (1.19, 0.80), (1.20, 0.45), (1.05, 0.40),
    (1.12, 0.30), (1.16, 0.58),
    (1.21, 0.62), (1.22, 0.40), (1.23, 0.72), (1.24, 0.55), (1.25, 0.18), (1.26, 0.68), (1.27, 0.48),
    (1.28, 0.85), (1.29, 0.60), (1.30, 0.35), (1.31, 0.75), (1.32, 0.52), (1.33, 0.92), (1.34, 0.65),
    (1.35, 0.42), (1.36, 0.80), (1.37, 0.58), (1.38, 0.70), (1.39, 0.30), (1.40, 0.85), (1.25, 0.78),
    (1.30, 0.62),
    (1.41, 0.62), (1.42, 0.95), (1.43, 0.45), (1.44, 0.75), (1.45, 0.88), (1.46, 0.55), (1.47, 1.00),
    (1.48, 0.70), (1.49, 0.40), (1.50, 0.82), (1.52, 0.95), (1.53, 0.60), (1.55, 1.00), (1.56, 0.75),
    (1.58, 0.50), (1.60, 0.88), (1.62, 0.38), (1.63, 0.95), (1.65, 0.72), (1.67, 1.00), (1.68, 0.58),
    (1.70, 0.90), (1.45, 0.30), (1.55, 0.38), (1.62, 0.62),
]

panels = [jan_n, jan_s, apr_n, apr_s, jul_n, jul_s, oct_n, oct_s]
titles = [
    "January 2020, N. Hem.", "January 2020, S. Hem.",
    "April 2020, N. Hem.", "April 2020, S. Hem.",
    "July 2020, N. Hem.", "July 2020, S. Hem.",
    "October 2020, N. Hem.", "October 2020, S. Hem.",
]
x_label = "Modelled difference [K]"
y_label = "Observed difference [K]"
tick_vals = [0, 1, 2, 3, 4]
tick_text = ["0", "1", "2", "3", "4"]
axis_range = [-0.16, 4.16]
ref_slopes = [1.0, 0.5, 0.25]

# ---------------- styling / layout ----------------
W, H = 662, 1396
FONT = "Liberation Sans, Arial, Helvetica, sans-serif"
REF_COLORS = ["#4f6d8e", "#87ceeb", "#87ceeb"]
col_px = [(77, 326), (414, 662)]
row_px = [(34, 279), (386, 631), (737, 982), (1089, 1333)]

fig = go.Figure()
annotations = []

for i, pts in enumerate(panels):
    r, c = divmod(i, 2)
    n = "" if i == 0 else str(i + 1)
    xa, ya = "x" + n, "y" + n
    x0, x1 = col_px[c]
    yt, yb = row_px[r]

    fig.add_trace(go.Scatter(
        x=[p[0] for p in pts], y=[p[1] for p in pts], mode="markers",
        marker=dict(size=5, color="black", line=dict(width=0)),
        xaxis=xa, yaxis=ya, showlegend=False, hoverinfo="skip"))
    for s, col in zip(ref_slopes, REF_COLORS):
        fig.add_trace(go.Scatter(
            x=axis_range, y=[s * v for v in axis_range], mode="lines",
            line=dict(color=col, width=1.1), xaxis=xa, yaxis=ya,
            showlegend=False, hoverinfo="skip"))

    common = dict(range=axis_range, tickvals=tick_vals, ticks="outside", ticklen=6,
                  tickwidth=1, tickcolor="black", showline=True, mirror=True,
                  linecolor="black", linewidth=1, showgrid=False, zeroline=False,
                  tickfont=dict(family=FONT, size=21, color="black"), fixedrange=True)
    fig.layout["xaxis" + n] = dict(domain=[x0 / W, x1 / W], anchor=ya,
                                   ticklabelstandoff=3, **common)
    fig.layout["yaxis" + n] = dict(domain=[1 - yb / H, 1 - yt / H], anchor=xa,
                                   showticklabels=False, **common)

    # y tick labels placed on the y axis scale, right-aligned next to the tick marks
    for tv, tt in zip(tick_vals, tick_text):
        annotations.append(dict(text=tt, x=(x0 - 13) / W, y=tv, xref="paper", yref=ya,
                                xanchor="right", yanchor="middle", showarrow=False,
                                font=dict(family=FONT, size=21, color="black")))

    cx = (x0 + x1) / 2
    cy = (yt + yb) / 2
    annotations.append(dict(text="<b>" + titles[i] + "</b>", x=cx / W, y=1 - (yt - 14.5) / H,
                            xref="paper", yref="paper", xanchor="center", yanchor="middle",
                            showarrow=False, font=dict(family=FONT, size=23, color="black")))
    annotations.append(dict(text=x_label, x=cx / W, y=1 - (yb + 50) / H,
                            xref="paper", yref="paper", xanchor="center", yanchor="middle",
                            showarrow=False, font=dict(family=FONT, size=21.5, color="black")))
    annotations.append(dict(text=y_label, x=(x0 - 53) / W, y=1 - cy / H, textangle=-90,
                            xref="paper", yref="paper", xanchor="center", yanchor="middle",
                            showarrow=False, font=dict(family=FONT, size=21.5, color="black")))

fig.update_layout(width=W, height=H, autosize=False,
                  margin=dict(l=0, r=0, t=0, b=0),
                  paper_bgcolor="white", plot_bgcolor="white",
                  annotations=annotations, showlegend=False)

fig.write_html("out.html")
